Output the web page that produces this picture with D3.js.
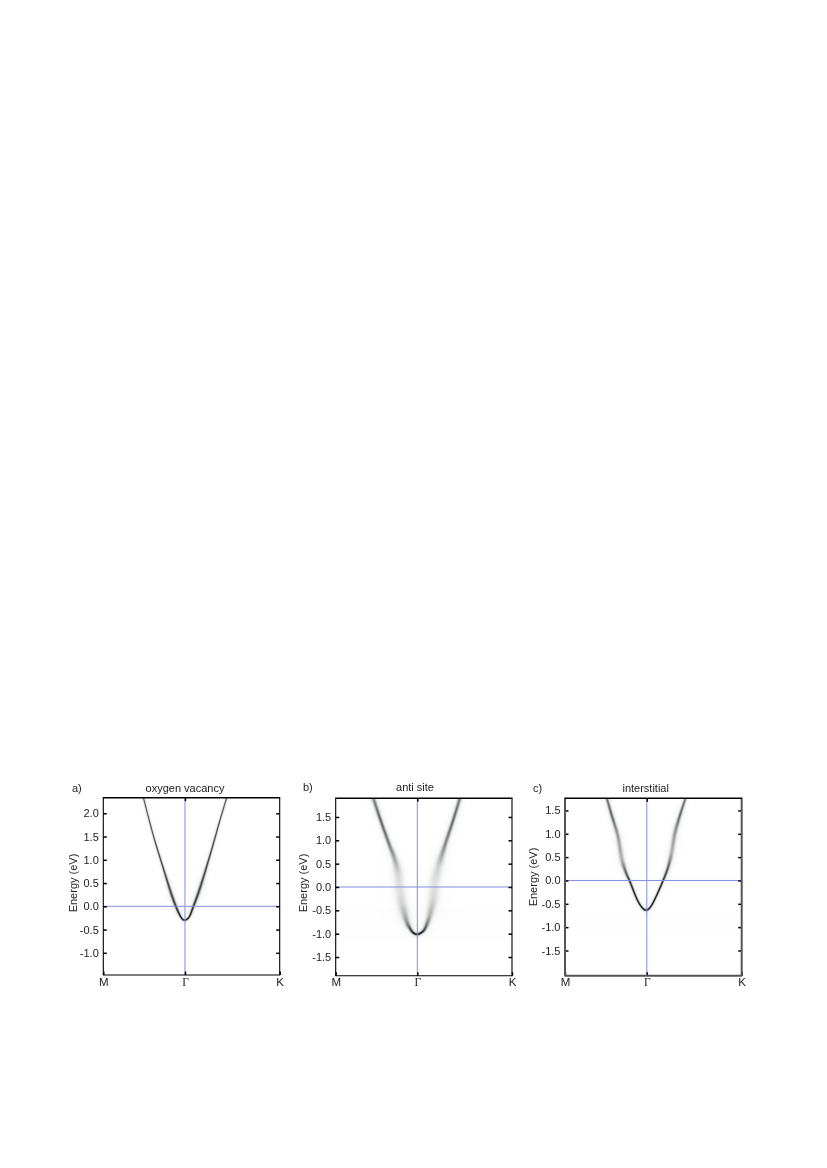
<!DOCTYPE html>
<html><head><meta charset="utf-8">
<script src="https://cdn.jsdelivr.net/npm/d3@7"></script>
<style>
html,body{margin:0;padding:0;background:#fff;width:827px;height:1168px;overflow:hidden}
#wrap{position:relative;width:827px;height:1168px}
canvas,svg{position:absolute;left:0;top:0}
text{font-family:"Liberation Sans",Arial,sans-serif;fill:#222}
</style></head><body><div id="wrap"></div>
<script>
// Panel names
const panelLetters = ["a)", "b)", "c)"];
const panelTitles = ["oxygen vacancy", "anti site", "interstitial"];
const pathLabels = ["M", "Γ", "K"];
const pathPositions = [0, 0.463, 1];
const axisLabel = "Energy (eV)";

// Energy windows and ticks (eV)
const energyRangeA = [-1.477, 2.335];
const energyRangeB = [-1.90, 1.90];
const energyRangeC = [-2.04, 1.76];
const ticksA = [-1.0, -0.5, 0, 0.5, 1.0, 1.5, 2.0];
const ticksB = [-1.5, -1.0, -0.5, 0, 0.5, 1.0, 1.5];
const ticksC = [-1.5, -1.0, -0.5, 0, 0.5, 1.0, 1.5];

// Band: momentum, energy, broadening (eV), spectral weight
const bandA_k = [.227,.283,.340,.388,.420,.445,.465,.488,.510,.548,.605,.662,.700];
const bandA_E = [2.34,1.53,.82,.24,-.08,-.26,-.295,-.22,-.01,.39,1.10,1.86,2.34];
const bandA_w = [.012,.012,.014,.022,.018,.014,.014,.014,.018,.022,.014,.012,.012];
const bandA_i = [.7,.75,.82,.8,.9,1,1,1,.9,.8,.82,.75,.7];

const bandB_k = [.213,.251,.298,.336,.355,.365,.378,.403,.421,.440,.463,.488,.507,.531,.554,.563,.582,.620,.667,.705];
const bandB_E = [1.91,1.47,.97,.58,.26,-.10,-.39,-.74,-.885,-.98,-1.013,-.97,-.885,-.64,-.24,.11,.43,.90,1.44,1.91];
const bandB_w = [.028,.024,.026,.04,.07,.08,.07,.038,.024,.018,.018,.018,.024,.04,.075,.08,.06,.03,.024,.026];
const bandB_i = [.5,.68,.6,.38,.17,.14,.2,.45,.78,1,1,1,.75,.36,.17,.14,.2,.52,.66,.55];

const bandC_k = [.236,.264,.298,.321,.344,.368,.406,.434,.460,.487,.519,.556,.584,.604,.622,.651,.683];
const bandC_E = [1.77,1.40,.97,.47,.18,-.03,-.39,-.57,-.635,-.55,-.315,.006,.29,.61,1.01,1.40,1.77];
const bandC_w = [.02,.022,.028,.036,.022,.016,.014,.014,.016,.014,.014,.016,.022,.034,.03,.022,.018];
const bandC_i = [.6,.68,.45,.34,.7,.92,1,1,1,1,1,.92,.7,.34,.45,.66,.6];

// Faint background spectral weight (energy from, energy to)
const hazeB = [-0.45, -1.15];
const hazeC = [-0.7, -1.08];

const panels = [
  {x0:103.3,x1:279.7,y0:975,y1:797.7,range:energyRangeA,ticks:ticksA,k:bandA_k,E:bandA_E,w:bandA_w,i:bandA_i,haze:null,
   letterX:72,titleX:185,titleY:792,labelX:76.5,labelY:883,frame:"#000",sideW:1.1},
  {x0:335.7,x1:512,y0:975.7,y1:798.3,range:energyRangeB,ticks:ticksB,k:bandB_k,E:bandB_E,w:bandB_w,i:bandB_i,haze:hazeB,
   letterX:303,titleX:415,titleY:791,labelX:307,labelY:883,frame:"#000",sideW:1.1},
  {x0:565,x1:741.7,y0:975.7,y1:798.3,range:energyRangeC,ticks:ticksC,k:bandC_k,E:bandC_E,w:bandC_w,i:bandC_i,haze:hazeC,
   letterX:533,titleX:645.7,titleY:792,labelX:537,labelY:877,frame:"#555",sideW:2}
];

const wrap = d3.select("#wrap");

function catmull(a,b,c,d,t){
  return .5*((2*b)+(-a+c)*t+(2*a-5*b+4*c-d)*t*t+(-a+3*b-3*c+d)*t*t*t);
}

panels.forEach(p=>{
  const xs = d3.scaleLinear().domain([0,1]).range([p.x0,p.x1]);
  const ys = d3.scaleLinear().domain(p.range).range([p.y0,p.y1]);
  const pxPerEv = Math.abs(ys(1)-ys(0));

  // Spectral map on a canvas
  const left=Math.floor(p.x0), top=Math.floor(p.y1), W=Math.ceil(p.x1)-left, H=Math.ceil(p.y0)-top;
  const cv = wrap.append("canvas").attr("width",W).attr("height",H)
    .style("left",left+"px").style("top",top+"px").node();
  const ctx = cv.getContext("2d");
  const field = new Float32Array(W*H);
  const n = p.k.length;
  const at=(arr,i)=>arr[Math.max(0,Math.min(n-1,i))];
  for(let s=0;s<n-1;s++){
    const steps=150;
    for(let q=0;q<steps;q++){
      const t=q/steps;
      const sx=xs(catmull(at(p.k,s-1),at(p.k,s),at(p.k,s+1),at(p.k,s+2),t))-left;
      const sy=ys(catmull(at(p.E,s-1),at(p.E,s),at(p.E,s+1),at(p.E,s+2),t))-top;
      const sig=(at(p.w,s)+(at(p.w,s+1)-at(p.w,s))*t)*pxPerEv;
      const wt=at(p.i,s)+(at(p.i,s+1)-at(p.i,s))*t;
      const R=Math.ceil(sig*8);
      for(let yy=Math.max(0,Math.floor(sy-R));yy<=Math.min(H-1,Math.ceil(sy+R));yy++){
        for(let xx=Math.max(0,Math.floor(sx-R));xx<=Math.min(W-1,Math.ceil(sx+R));xx++){
          const d2=(xx+.5-sx)**2+(yy+.5-sy)**2;
          const v=wt*(.92*Math.exp(-d2/(2*sig*sig))+.08*Math.exp(-d2/(2*9*sig*sig)));
          const idx=yy*W+xx;
          if(v>field[idx])field[idx]=v;
        }
      }
    }
  }
  const img=ctx.createImageData(W,H);
  const ink=[20,26,26];
  for(let j=0;j<H;j++){
    const e=ys.invert(j+top+.5);
    let base=0;
    if(p.haze&&e<p.haze[0]&&e>p.haze[1])base=.006;
    for(let i=0;i<W;i++){
      const v=Math.min(1,field[j*W+i]+base);
      const o=(j*W+i)*4;
      img.data[o]=255+(ink[0]-255)*v;
      img.data[o+1]=255+(ink[1]-255)*v;
      img.data[o+2]=255+(ink[2]-255)*v;
      img.data[o+3]=255;
    }
  }
  ctx.putImageData(img,0,0);

  // Vector overlay
  const svg = wrap.append("svg").attr("width",827).attr("height",1168)
    .style("left",0).style("top",0);

  // Reference lines
  svg.append("line").attr("x1",p.x0).attr("x2",p.x1).attr("y1",ys(0)).attr("y2",ys(0))
    .attr("stroke","#7d90e6").attr("stroke-width",1);
  svg.append("line").attr("x1",xs(pathPositions[1])).attr("x2",xs(pathPositions[1])).attr("y1",p.y0).attr("y2",p.y1)
    .attr("stroke","#7d90e6").attr("stroke-width",1);

  const fmt=d=>d3.format(".1f")(d).replace("\u2212","-");
  const styleAxis=(g)=>{
    g.select(".domain").remove();
    g.selectAll(".tick line").attr("stroke","#000").attr("stroke-width",1.5);
    g.selectAll(".tick text").attr("font-size",11).style("fill","#222");
  };
  svg.append("g").attr("transform",`translate(${p.x0},0)`)
    .call(d3.axisLeft(ys).tickValues(p.ticks).tickSize(-3.5).tickPadding(4.5).tickFormat(fmt)).call(styleAxis);
  svg.append("g").attr("transform",`translate(${p.x1},0)`)
    .call(d3.axisRight(ys).tickValues(p.ticks).tickSize(-3.5).tickFormat("")).call(styleAxis);
  svg.append("g").attr("transform",`translate(0,${p.y0})`)
    .call(d3.axisBottom(xs).tickValues(pathPositions).tickSize(-3.5).tickPadding(2.5).tickFormat((d,i)=>pathLabels[i])).call(styleAxis)
    .call(g=>g.selectAll(".tick text").attr("font-size",11.5)
      .style("font-family",(d,i)=>i===1?'"Liberation Serif",serif':null));
  svg.append("g").attr("transform",`translate(0,${p.y1})`)
    .call(d3.axisTop(xs).tickValues([pathPositions[1]]).tickSize(-3.5).tickFormat("")).call(styleAxis);

  // Frame
  svg.append("line").attr("x1",p.x0).attr("x2",p.x0).attr("y1",p.y0).attr("y2",p.y1).attr("stroke",p.frame).attr("stroke-width",p.sideW);
  svg.append("line").attr("x1",p.x1).attr("x2",p.x1).attr("y1",p.y0).attr("y2",p.y1).attr("stroke",p.frame).attr("stroke-width",p.sideW);
  svg.append("line").attr("x1",p.x0-.5).attr("x2",p.x1+.5).attr("y1",p.y0).attr("y2",p.y0).attr("stroke",p.frame).attr("stroke-width",p.sideW);
  svg.append("line").attr("x1",p.x0-.5).attr("x2",p.x1+.5).attr("y1",p.y1).attr("y2",p.y1).attr("stroke","#000").attr("stroke-width",1.4);

  const i=panels.indexOf(p);
  svg.append("text").attr("x",p.letterX).attr("y",p.titleY).attr("font-size",11).text(panelLetters[i]);
  svg.append("text").attr("x",p.titleX).attr("y",p.titleY).attr("text-anchor","middle").attr("font-size",11).text(panelTitles[i]);
  svg.append("text").attr("transform",`translate(${p.labelX},${p.labelY}) rotate(-90)`).attr("text-anchor","middle").attr("font-size",11).text(axisLabel);
});
</script></body></html>
